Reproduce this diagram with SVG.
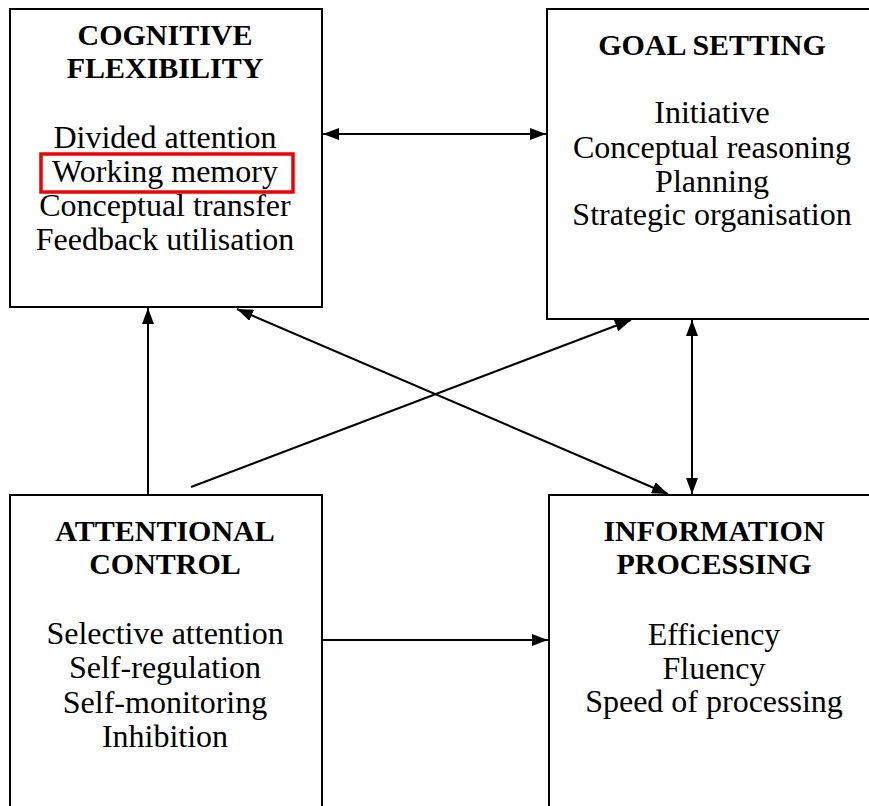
<svg xmlns="http://www.w3.org/2000/svg" width="869" height="806" viewBox="0 0 869 806">
<defs>
<style>
.box{fill:#fff;stroke:#000;stroke-width:2}
.t{font-family:"Liberation Serif","Times New Roman",serif;font-size:30px;font-weight:bold;text-anchor:middle;fill:#000}
.b{font-family:"Liberation Serif","Times New Roman",serif;font-size:32px;text-anchor:middle;fill:#000}
.c{stroke:#000;stroke-width:2;fill:none}
</style>
<marker id="ah" viewBox="0 0 16 12" refX="16" refY="6" markerWidth="16" markerHeight="12" markerUnits="userSpaceOnUse" orient="auto-start-reverse">
<path d="M0,0 L16,6 L0,12 Z" fill="#000"/>
</marker>
</defs>
<rect width="869" height="806" fill="#fff"/>
<g id="cognitive-flexibility">
<rect class="box" x="10" y="9" width="312" height="298"/>
<text class="t" x="165" y="45">COGNITIVE</text>
<text class="t" x="165" y="78">FLEXIBILITY</text>
<text class="b" x="165" y="148">Divided attention</text>
<text class="b" x="165" y="182">Working memory</text>
<text class="b" x="165" y="216">Conceptual transfer</text>
<text class="b" x="165" y="250">Feedback utilisation</text>
<rect x="41" y="154" width="252" height="38" fill="none" stroke="#e00" stroke-width="3.5"/>
</g>
<g id="goal-setting">
<rect class="box" x="547" y="9" width="330" height="310"/>
<text class="t" x="712" y="55">GOAL SETTING</text>
<text class="b" x="712" y="123">Initiative</text>
<text class="b" x="712" y="158">Conceptual reasoning</text>
<text class="b" x="712" y="192">Planning</text>
<text class="b" x="712" y="225">Strategic organisation</text>
</g>
<g id="attentional-control">
<rect class="box" x="10" y="495" width="312" height="330"/>
<text class="t" x="165" y="541">ATTENTIONAL</text>
<text class="t" x="165" y="574">CONTROL</text>
<text class="b" x="165" y="644">Selective attention</text>
<text class="b" x="165" y="678">Self-regulation</text>
<text class="b" x="165" y="713">Self-monitoring</text>
<text class="b" x="165" y="747">Inhibition</text>
</g>
<g id="information-processing">
<rect class="box" x="549" y="495" width="330" height="330"/>
<text class="t" x="714" y="541">INFORMATION</text>
<text class="t" x="714" y="574">PROCESSING</text>
<text class="b" x="714" y="645">Efficiency</text>
<text class="b" x="714" y="679">Fluency</text>
<text class="b" x="714" y="712">Speed of processing</text>
</g>
<g id="connectors">
<line class="c" x1="323" y1="134" x2="546" y2="134" marker-start="url(#ah)" marker-end="url(#ah)"/>
<line class="c" x1="148" y1="495" x2="148" y2="308" marker-end="url(#ah)"/>
<line class="c" x1="191" y1="487" x2="631" y2="320" marker-end="url(#ah)"/>
<line class="c" x1="237" y1="309" x2="668" y2="494" marker-start="url(#ah)" marker-end="url(#ah)"/>
<line class="c" x1="692" y1="320" x2="692" y2="494" marker-start="url(#ah)" marker-end="url(#ah)"/>
<line class="c" x1="322" y1="640" x2="548" y2="640" marker-end="url(#ah)"/>
</g>
</svg>
